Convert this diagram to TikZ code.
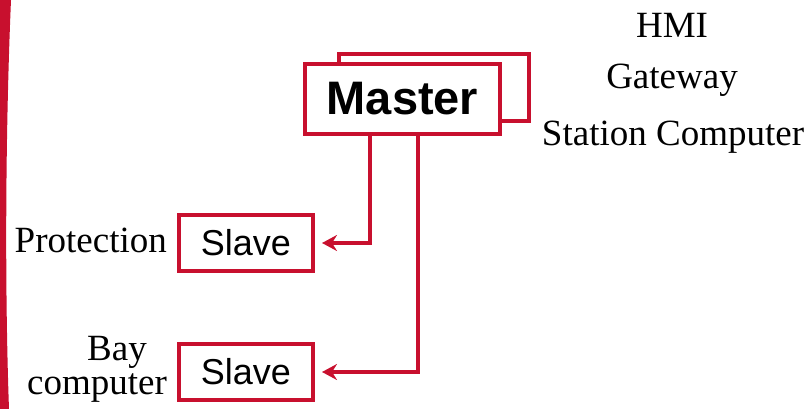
\documentclass[tikz,border=0pt]{standalone}
\usepackage{fontspec}
\setmainfont{Liberation Serif}
\setsansfont{Liberation Sans}
\usepackage{xcolor}
\definecolor{relaisRouge}{HTML}{C8102E}
\usetikzlibrary{arrows.meta, positioning}
\tikzset{
  %% ── Boxes ────────────────────────────────────────────────────────────
  cadre/.style        = {draw=relaisRouge, line width=4pt, fill=white,
                         inner sep=0pt, font=\sffamily},
  cadreMaitre/.style  = {cadre, minimum width=195pt, minimum height=70pt,
                         font=\sffamily\bfseries\fontsize{47}{50}\selectfont},
  cadreOmbre/.style   = {cadre, minimum width=190pt, minimum height=67pt},
  cadreEsclave/.style = {cadre, minimum width=134pt, minimum height=56pt,
                         font=\sffamily\fontsize{36}{40}\selectfont},
  %%
  %% ── Arrows ───────────────────────────────────────────────────────────
  liaison/.style      = {-{Stealth[length=15pt, width=16pt, inset=5pt]},
                         draw=relaisRouge, line width=4pt, shorten >=7pt},
  %%
  %% ── Text ─────────────────────────────────────────────────────────────
  legende/.style      = {font=\fontsize{37}{40}\selectfont, inner sep=0pt},
}

\begin{document}
\begin{tikzpicture}[x=1pt, y=-1pt]

\useasboundingbox (0,0) rectangle (810,409);

%% slide edge
\fill[relaisRouge] (0,0) -- (11,0) .. controls (5,140) and (5,300) .. (9,409)
                   -- (0,409) -- cycle;

\node[cadreOmbre] (ombre) at (434, 87.5) {};
\node[cadreMaitre] (maitre) at (402.5, 99) {Master};

\node[cadreEsclave] (esclaveA) at (246, 243) {Slave};
\node[cadreEsclave] (esclaveB) at (246, 372) {Slave};

\draw[liaison] ([xshift=-32.5pt]maitre.south) |- (esclaveA);
\draw[liaison] ([xshift=15.5pt]maitre.south) |- (esclaveB);

\node[legende] (hmi) at (672, 25) {HMI};
\node[legende] (passerelle) at (672, 80) {Gateway};
\node[legende] (poste) at (673, 137) {Station Computer};

\node[legende, anchor=east] (protection) at (167, 240) {Protection};
\node[legende, anchor=east] (baie) at (147, 352) {Bay};
\node[legende, anchor=east] (calculateur) at (167, 388) {computer};

\end{tikzpicture}
\end{document}
